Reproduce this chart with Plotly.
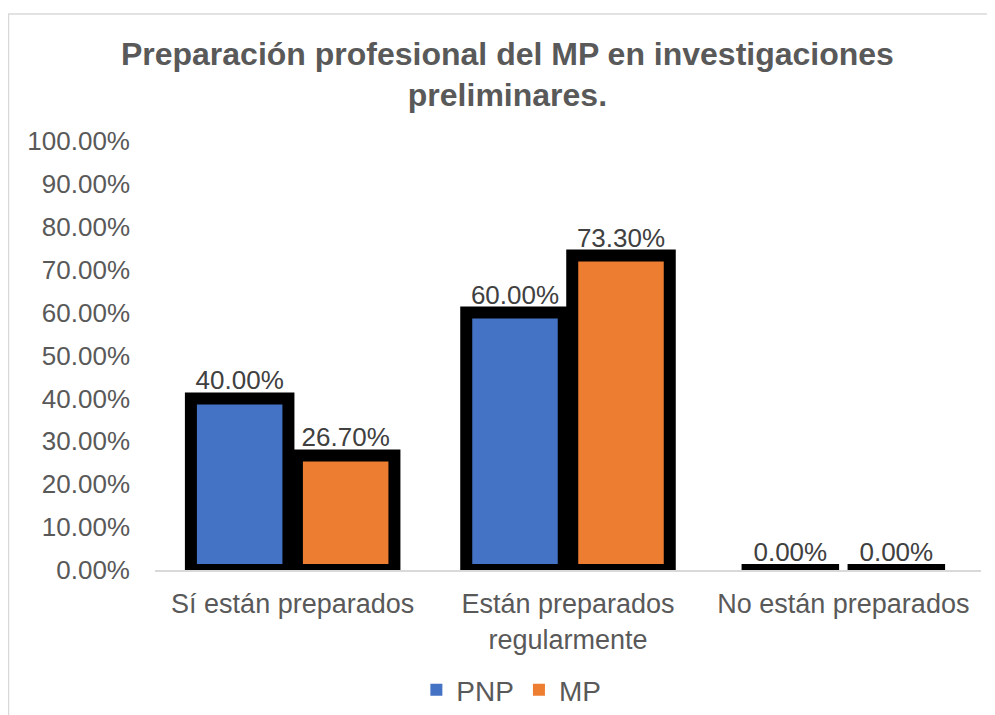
import plotly.graph_objects as go

# datos
categorias = ["Sí están preparados", "Están preparados<br>regularmente", "No están preparados"]
pnp = [40.0, 60.0, 0.0]
mp = [26.7, 73.3, 0.0]
series = ["PNP", "MP"]
colores = ["#4472C4", "#ED7D31"]
y_ticks = [0, 10, 20, 30, 40, 50, 60, 70, 80, 90, 100]

# la pagina tiene 8px de margen en el body
W, H = 987, 707
ml, mr, mt, mb = 147, 14, 133, 145
fuente = "Arial, Liberation Sans, sans-serif"
gris = "#595959"

fig = go.Figure()
for i, (nombre, vals, col) in enumerate(zip(series, [pnp, mp], colores)):
    fig.add_trace(go.Bar(
        x=categorias, y=vals, name=nombre, showlegend=False, offsetgroup=str(i),
        marker=dict(color=col, line=dict(color="black", width=12)),
        texttemplate="%{y:.2f}%", textposition="outside", constraintext="none",
        textfont=dict(size=26, color="#404040", family=fuente),
        cliponaxis=False, hoverinfo="skip",
    ))
    # entrada de leyenda sin borde
    fig.add_trace(go.Bar(x=[None], y=[None], name=nombre, offsetgroup=str(i),
                         marker=dict(color=col, line=dict(width=0))))

pw = W - ml - mr
ph = H - mt - mb
fig.add_shape(type="rect", xref="paper", yref="paper",
              x0=(0.5 - ml) / pw, x1=(W + 5 - ml) / pw,
              y0=-(H + 5 - mt - ph) / ph, y1=(mt + ph - 6) / ph,
              line=dict(color="#D9D9D9", width=1.5), layer="below")

fig.update_layout(
    width=W, height=H,
    margin=dict(l=ml, r=mr, t=mt, b=mb, autoexpand=False),
    paper_bgcolor="white", plot_bgcolor="white",
    barmode="group", bargap=0.23, bargroupgap=0.08,
    title=dict(text="<b>Preparación profesional del MP en investigaciones<br>preliminares.</b>",
               x=0.506, xref="container", y=0.92, yref="container", yanchor="top",
               font=dict(size=32, color=gris, family=fuente)),
    font=dict(family=fuente, color=gris, size=26),
    legend=dict(orientation="h", x=0.51, xref="container", xanchor="center",
                y=0.0, yref="container", yanchor="bottom",
                font=dict(size=28, color=gris), itemwidth=30),
    xaxis=dict(showline=True, linecolor="#D9D9D9", linewidth=2, ticks="", automargin=False,
               tickfont=dict(size=27, color=gris), ticklabelstandoff=9),
    yaxis=dict(range=[0, 100], tickvals=y_ticks, ticktext=[f"{v:.2f}%" for v in y_ticks],
               showgrid=False, zeroline=False, showline=False, automargin=False,
               tickfont=dict(size=26, color=gris), ticklabelstandoff=24),
)

fig.write_html("out.html")
